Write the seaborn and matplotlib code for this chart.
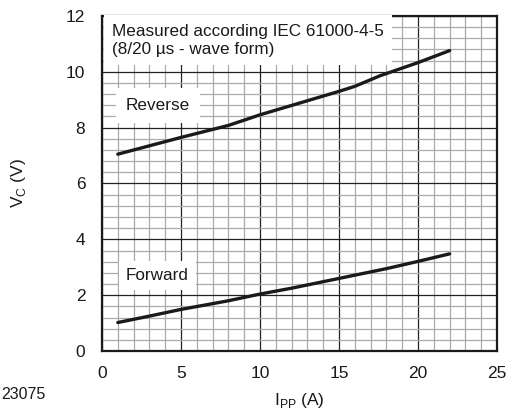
import pandas as pd
import matplotlib.pyplot as plt
import seaborn as sns
from matplotlib.ticker import MultipleLocator

sns.set_style('white')
plt.rcParams['font.family'] = ['Liberation Sans', 'DejaVu Sans']

# Curve data
ipp_reverse = [1, 3, 5, 8, 10, 12.5, 15, 16, 17.6, 20, 22]
vc_reverse = [7.05, 7.35, 7.65, 8.08, 8.46, 8.88, 9.3, 9.48, 9.86, 10.33, 10.76]

ipp_forward = [1, 3, 5, 8, 10, 12, 15, 18, 20, 22]
vc_forward = [1.02, 1.25, 1.49, 1.8, 2.04, 2.25, 2.6, 2.95, 3.21, 3.48]

x_ticks = [0, 5, 10, 15, 20, 25]
y_ticks = [0, 2, 4, 6, 8, 10, 12]

df = pd.concat([
    pd.DataFrame({'ipp': ipp_reverse, 'vc': vc_reverse, 'mode': 'Reverse'}),
    pd.DataFrame({'ipp': ipp_forward, 'vc': vc_forward, 'mode': 'Forward'}),
], ignore_index=True)

fig = plt.figure(figsize=(5.07, 4.13), dpi=100)
ax = fig.add_axes([0.2012, 0.1501, 0.7791, 0.8112])

sns.lineplot(data=df, x='ipp', y='vc', units='mode', estimator=None,
             color='#1a1a1a', linewidth=2.4, ax=ax, zorder=5, legend=False)

ax.set_xlim(0, 25)
ax.set_ylim(0, 12)
ax.set_xticks(x_ticks)
ax.set_yticks(y_ticks)
ax.xaxis.set_minor_locator(MultipleLocator(1))
ax.yaxis.set_minor_locator(MultipleLocator(0.4))
ax.grid(which='minor', color='#ababab', linewidth=0.9)
ax.grid(which='major', color='#222222', linewidth=0.9)
ax.set_axisbelow(True)
ax.tick_params(which='both', length=0, labelsize=12.5, colors='#1a1a1a')
ax.tick_params(axis='x', pad=11)
ax.tick_params(axis='y', pad=12)
for s in ax.spines.values():
    s.set_color('#1a1a1a')
    s.set_linewidth(1.6)

ax.set_xlabel('I$_{\\mathregular{PP}}$ (A)', fontsize=12.5, color='#1a1a1a', labelpad=7)
ax.set_ylabel('V$_{\\mathregular{C}}$ (V)', fontsize=12.5, color='#1a1a1a', labelpad=27)

# White label boxes sit on top of the grid, under the curves
ax.text(0.65, 11.72, 'Measured according IEC 61000-4-5\n(8/20 µs - wave form)',
        fontsize=12.3, va='top', ha='left', color='#1a1a1a',
        bbox=dict(facecolor='white', edgecolor='none', pad=6),
        linespacing=1.25, zorder=4)
ax.text(1.5, 8.8, 'Reverse', fontsize=12.3, va='center', ha='left',
        color='#1a1a1a', bbox=dict(facecolor='white', edgecolor='none', pad=7), zorder=4)
ax.text(1.5, 2.72, 'Forward', fontsize=12.3, va='center', ha='left',
        color='#1a1a1a', bbox=dict(facecolor='white', edgecolor='none', pad=5), zorder=4)

fig.text(0.002, 0.027, '23075', fontsize=11.5, color='#1a1a1a', ha='left', va='bottom')

fig.savefig('out.png', dpi=100)
